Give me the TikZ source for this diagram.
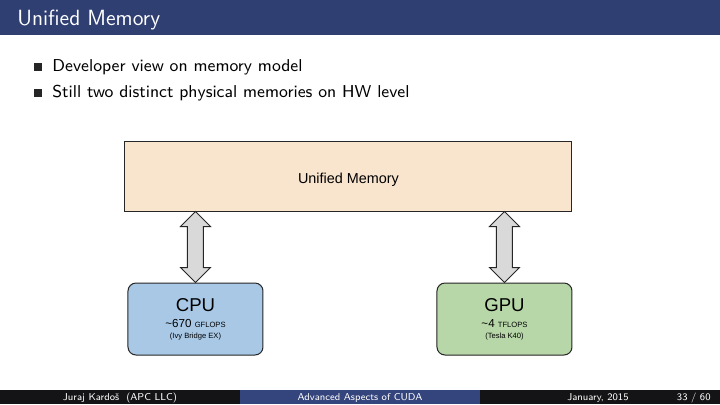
\documentclass[tikz,border=0pt]{standalone}
\usepackage{fontspec}
\newfontfamily\arialfont{Liberation Sans}
\usetikzlibrary{positioning, calc}
\definecolor{barblue}{RGB}{48,63,114}
\definecolor{footblue}{RGB}{52,68,124}
\definecolor{footblack}{RGB}{20,20,22}
\definecolor{memfill}{RGB}{249,228,205}
\definecolor{cpufill}{RGB}{168,200,230}
\definecolor{gpufill}{RGB}{183,215,168}
\definecolor{arrfill}{RGB}{217,217,217}

\begin{document}
\begin{tikzpicture}[x=0.5pt, y=-0.5pt,
  membox/.style={draw=black!85, line width=0.5pt, fill=memfill,
                 minimum width=223.5pt, minimum height=35pt,
                 text height=7pt, text depth=0pt,
                 font=\arialfont\fontsize{7.2}{8}\selectfont},
  unitbox/.style={draw=black!85, line width=0.5pt, rounded corners=4pt,
                  minimum width=67.5pt, minimum height=36pt, align=center,
                  font=\arialfont\fontsize{3.8}{4.5}\selectfont},
  dblarr/.style={draw=black!85, line width=0.5pt, fill=arrfill},
  bullet/.style={fill=black!85, minimum size=4pt, inner sep=0pt},
  item/.style={anchor=base west, inner sep=0pt,
               font=\sffamily\fontsize{8.6}{10}\selectfont},
  foot/.style={anchor=base, inner sep=0pt, text=white,
               font=\sffamily\fontsize{5}{6}\selectfont}
]
  \useasboundingbox[fill=white] (0,0) rectangle (720,404);

  % title bar
  \fill[barblue] (0,0) rectangle (720,35);
  \node[anchor=base west, inner sep=0pt, text=white,
        font=\sffamily\fontsize{11}{13}\selectfont] (title) at (17,25) {Unified Memory};

  % bullets
  \node[bullet] (b1) at (38,67) {};
  \node[item] (i1) at (52,71) {Developer view on memory model};
  \node[bullet] (b2) at (38,93) {};
  \node[item] (i2) at (52,97) {Still two distinct physical memories on HW level};

  % diagram
  \node[membox] (mem) at (348.5,176) {Unified Memory};
  \node[unitbox, fill=cpufill] (cpu) at (195.5,319)
    {{\fontsize{9.3}{9.3}\selectfont CPU}\\[3.5pt]
     {\fontsize{5.8}{6}\selectfont\textasciitilde670 }GFLOPS\\[1pt]
     (Ivy Bridge EX)};
  \node[unitbox, fill=gpufill] (gpu) at (504.5,319)
    {{\fontsize{9.3}{9.3}\selectfont GPU}\\[3.5pt]
     {\fontsize{5.8}{6}\selectfont\textasciitilde4 }TFLOPS\\[1pt]
     (Tesla K40)};

  \foreach \n in {cpu,gpu}{
    \draw[dblarr] (\n.north) -- ++(15,-15) -- ++(-7,0)
      -- ($(\n.north |- mem.south)+(8,15)$) -- ++(7,0)
      -- (\n.north |- mem.south) -- ++(-15,15) -- ++(7,0)
      -- ($(\n.north)+(-8,-15)$) -- ++(-7,0) -- cycle;
  }

  % footline
  \fill[footblack] (0,390) rectangle (240,404);
  \fill[footblue] (240,390) rectangle (480,404);
  \fill[footblack] (480,390) rectangle (720,404);
  \node[foot] (author) at (120,400) {Juraj Kardoš\ \ (APC LLC)};
  \node[foot] (talk) at (360,400) {Advanced Aspects of CUDA};
  \node[foot, anchor=base east] (date) at (629,400) {January, 2015};
  \node[foot, anchor=base east] (page) at (711,400) {33 / 60};
\end{tikzpicture}
\end{document}
